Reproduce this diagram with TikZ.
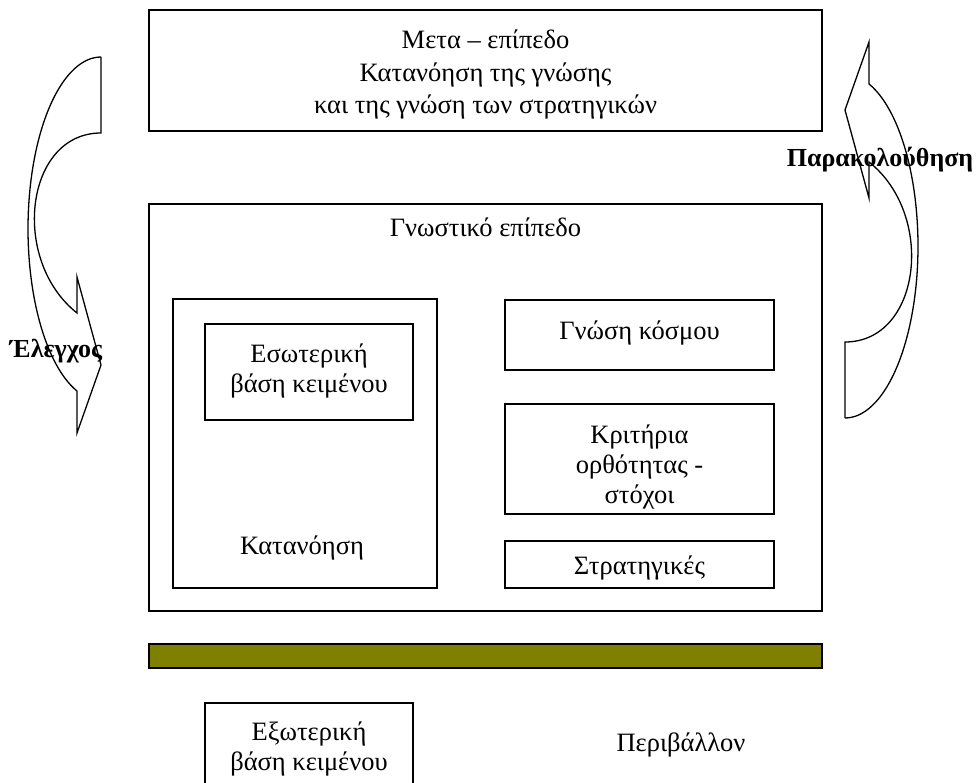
\documentclass[tikz,border=0pt]{standalone}
\usepackage{fontspec}
\setmainfont{Liberation Serif}
\definecolor{barolive}{RGB}{128,128,0}
\begin{document}
\begin{tikzpicture}[x=1pt,y=-1pt,
  box/.style={draw, line width=1.4pt, inner sep=0pt},
  txt/.style={font=\fontsize{26.5}{30}\selectfont, align=center, inner sep=0pt},
  lbl/.style={font=\fontsize{26}{30}\selectfont\bfseries, inner sep=0pt},
  curvearrow/.style={draw, line width=1.3pt, line join=miter}]
\useasboundingbox (0,0) rectangle (979,783);
\clip (0,0) rectangle (979,783);
% meta level
\node[box, minimum width=673pt, minimum height=121pt] (meta) at (485.5,70.5) {};
\node[txt, font=\fontsize{26.5}{32.5}\selectfont] (metat) at ([yshift=-4pt]meta.center)
  {Μετα – επίπεδο\\Κατανόηση της γνώσης\\και της γνώση των στρατηγικών};
% cognitive level
\node[box, minimum width=673pt, minimum height=407pt] (cog) at (485.5,407.5) {};
\node[txt, anchor=base] (cogl) at (485.5,237) {Γνωστικό επίπεδο};
\node[box, minimum width=264pt, minimum height=289pt] (compr) at (305,443.5) {};
\node[txt] (comprl) at (302,548) {Κατανόηση};
\node[box, minimum width=208pt, minimum height=96pt] (intb) at (309,372) {};
\node[txt] (intbt) at ([yshift=1pt]intb.center) {Εσωτερική\\βάση κειμένου};
\node[box, minimum width=269pt, minimum height=70pt] (world) at (639.5,335) {};
\node[txt] (worldt) at ([yshift=2pt]world.center) {Γνώση κόσμου};
\node[box, minimum width=269pt, minimum height=110pt] (crit) at (639.5,459) {};
\node[txt] (critt) at ([yshift=-8pt]crit.center) {Κριτήρια\\ορθότητας -\\στόχοι};
\node[box, minimum width=269pt, minimum height=47pt] (strat) at (639.5,564.5) {};
\node[txt] (stratt) at ([yshift=-3pt]strat.center) {Στρατηγικές};
% olive bar
\node[box, fill=barolive, minimum width=673pt, minimum height=24pt] (bar) at (485.5,656) {};
% environment
\node[box, minimum width=208pt, minimum height=90pt] (extb) at (309,748) {};
\node[txt] (extbt) at ([yshift=-1pt]extb.center) {Εξωτερική\\βάση κειμένου};
\node[txt] (env) at (681,745) {Περιβάλλον};
% curved arrows
\draw[curvearrow] (101,57) -- (101,133) .. controls (25,133) and (10,260) .. (77,313) -- (77,277) -- (101,365) -- (77,433) -- (77,391)
  -- plot[domain=109.2:270, samples=60] ({101+73*cos(\x)},{228.8+171.8*sin(\x)}) -- cycle;
\begin{scope}[rotate around={180:(473,237.5)}]
\draw[curvearrow] (101,57) -- (101,133) .. controls (25,133) and (10,260) .. (77,313) -- (77,277) -- (101,365) -- (77,433) -- (77,391)
  -- plot[domain=109.2:270, samples=60] ({101+73*cos(\x)},{228.8+171.8*sin(\x)}) -- cycle;
\end{scope}
\node[lbl, anchor=base] (ctrl) at (56,357) {Έλεγχος};
\node[lbl, anchor=base] (mon) at (880,167) {Παρακολούθηση};
\end{tikzpicture}
\end{document}
